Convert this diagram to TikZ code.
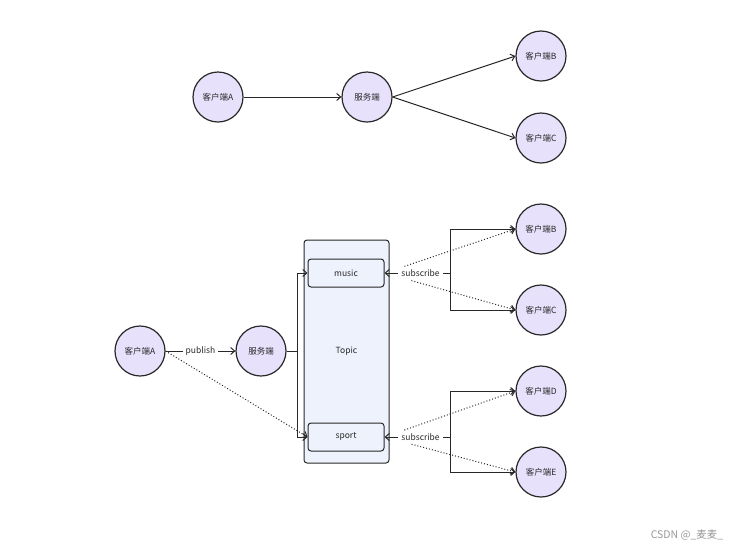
\documentclass[tikz,border=0pt]{standalone}
\usepackage{fontspec}
\usepackage{xcolor}
\usepackage{tikz}
\usetikzlibrary{arrows.meta}
\newfontfamily\cjk{Noto Sans CJK SC}
\definecolor{peerfill}{RGB}{232,225,252}
\definecolor{topicfill}{RGB}{238,242,252}
\definecolor{ink}{RGB}{40,40,40}

\begin{document}
\begin{tikzpicture}[x=1pt,y=-1pt]
    \def\cx{541}

    % --- DEFINE STYLES ---
    % Style for clients and servers
    \tikzstyle{peer} = [circle, draw=ink, line width=1.2pt, fill=peerfill, minimum size=50pt, inner sep=0pt, font=\cjk\fontsize{8.5}{10}\selectfont, text=ink]
    % Style for the topic container
    \tikzstyle{topicbox} = [rectangle, rounded corners=3pt, draw=ink, line width=1pt, fill=topicfill, font=\cjk\fontsize{8.5}{10}\selectfont, text=ink]
    % Style for a channel inside the topic
    \tikzstyle{chan} = [topicbox, minimum width=76pt, minimum height=28pt]
    % Connectors
    \tikzstyle{link} = [draw=ink, line width=1pt, -{Straight Barb[length=4pt,width=7pt]}]
    \tikzstyle{hint} = [link, dotted]
    \tikzstyle{tag} = [fill=white, inner xsep=3pt, inner ysep=2pt, font=\cjk\fontsize{8.5}{10}\selectfont, text=ink]

    \useasboundingbox (0,0) rectangle (743,550);

    % --- TOP: direct sending ---
    \node[peer] (a1) at (218,97) {客户端A};
    \node[peer] (s1) at (367,97) {服务端};
    \node[peer] (b1) at (\cx,56) {客户端B};
    \node[peer] (c1) at (\cx,138) {客户端C};
    \draw[link] (a1) -- (s1);
    \draw[link] (s1.east) -- (b1.west);
    \draw[link] (s1.east) -- (c1.west);

    % --- BOTTOM: publish / subscribe ---
    \node[peer] (a2) at (140,351) {客户端A};
    \node[peer] (s2) at (261,351) {服务端};
    \node[topicbox, minimum width=85pt, minimum height=223pt] (topic) at (346.5,351.5) {Topic};
    \node[chan] (music) at (346,273) {music};
    \node[chan] (sport) at (346,437) {sport};

    % subscribers
    \foreach \n/\y/\l in {b2/229/B, c2/310/C, d2/391/D, e2/472/E} {
        \node[peer] (\n) at (\cx,\y) {客户端\l};
    }

    % publish side
    \coordinate (js) at (297,351);
    \draw[hint] (a2.east) -- (sport.west);
    \draw[link] (a2) -- (s2) node[tag, midway] {publish};
    \draw[draw=ink, line width=1pt] (s2) -- (js);
    \draw[link] (js) |- (music.west);
    \draw[link] (js) |- (sport.west);

    % subscribe side (dotted hints start behind the label)
    \coordinate (jm) at (450,273);
    \coordinate (jp) at (450,437);
    \draw[hint, shorten <=21pt] (music.east) -- (b2.west);
    \draw[hint, shorten <=28pt] (music.east) -- (c2.west);
    \draw[hint, shorten <=21pt] (sport.east) -- (d2.west);
    \draw[hint, shorten <=28pt] (sport.east) -- (e2.west);
    \draw[link] (jm) |- (b2.west);
    \draw[link] (jm) |- (c2.west);
    \draw[link] (jp) |- (d2.west);
    \draw[link] (jp) |- (e2.west);
    \draw[link] (jm) -- (music.east) node[tag, pos=0.45] {subscribe};
    \draw[link] (jp) -- (sport.east) node[tag, pos=0.45] {subscribe};

    % watermark
    \node[font=\cjk\fontsize{10.5}{12}\selectfont, text=black!40] (mark) at (687,535) {CSDN @\_麦麦\_};
\end{tikzpicture}
\end{document}
